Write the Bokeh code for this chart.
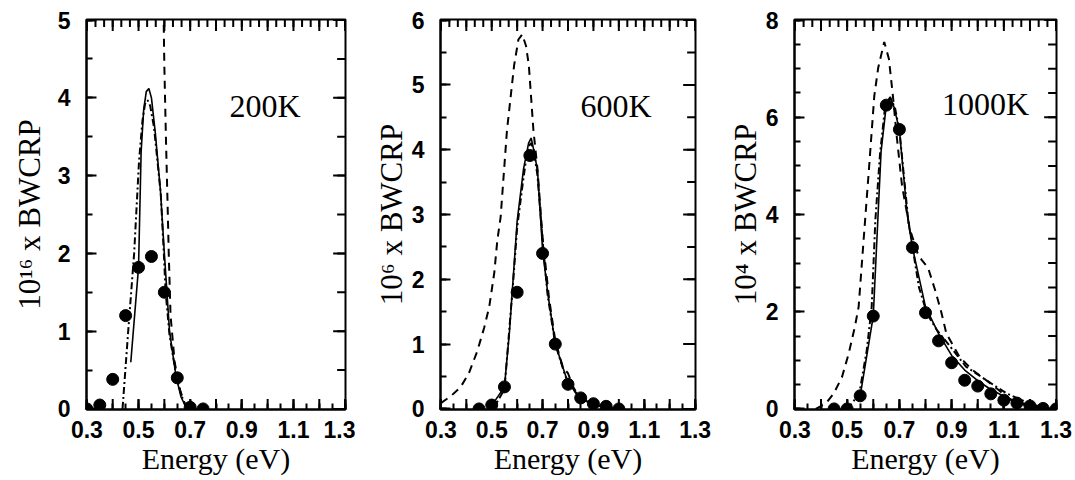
from bokeh.plotting import figure
from bokeh.models import Range1d, FixedTicker, LinearAxis, Label
from bokeh.layouts import row
from bokeh.embed import file_html
from bokeh.resources import INLINE

# ---------------- data ----------------
x_label_ticks = [0.3, 0.5, 0.7, 0.9, 1.1, 1.3]
x_tenth_ticks = [0.3, 0.4, 0.5, 0.6, 0.7, 0.8, 0.9, 1.0, 1.1, 1.2, 1.3]
x_minor_ticks = [round(0.3 + 0.05 * i, 3) for i in range(21)]
x_minor_ticks_top = [round(0.3 + i / 30.0, 4) for i in range(31)]

# 200 K
t200_dots_x = [0.30, 0.35, 0.40, 0.45, 0.50, 0.55, 0.60, 0.65, 0.70, 0.75]
t200_dots_y = [0.0, 0.05, 0.38, 1.20, 1.82, 1.96, 1.50, 0.40, 0.02, 0.0]
t200_dashdot_x = [0.438, 0.46, 0.483, 0.502, 0.515, 0.525, 0.535, 0.545, 0.56, 0.586, 0.598, 0.605, 0.62, 0.645, 0.665, 0.68, 0.695]
t200_dashdot_y = [0.0, 1.0, 2.0, 3.19, 3.70, 3.92, 3.97, 3.90, 3.62, 2.77, 2.0, 1.5, 0.95, 0.45, 0.18, 0.06, 0.0]
t200_solid_x = [0.47, 0.50, 0.51, 0.52, 0.53, 0.54, 0.55, 0.565, 0.585, 0.60, 0.62, 0.645, 0.665, 0.68, 0.70]
t200_solid_y = [0.6, 1.82, 3.30, 3.85, 4.08, 4.12, 4.00, 3.55, 2.80, 2.0, 1.0, 0.42, 0.15, 0.05, 0.0]
t200_dashed_x = [0.596, 0.600, 0.606, 0.612, 0.617, 0.624, 0.64, 0.66, 0.68, 0.70]
t200_dashed_y = [5.3, 4.4, 3.5, 2.7, 2.0, 1.2, 0.6, 0.25, 0.06, 0.0]

# 600 K
t600_dots_x = [0.45, 0.50, 0.55, 0.60, 0.65, 0.70, 0.75, 0.80, 0.85, 0.90, 0.95, 1.00]
t600_dots_y = [0.0, 0.06, 0.34, 1.80, 3.91, 2.40, 1.0, 0.38, 0.17, 0.08, 0.04, 0.0]
t600_dashed_x = [0.30, 0.34, 0.378, 0.41, 0.444, 0.47, 0.49, 0.51, 0.522, 0.535, 0.56, 0.588, 0.605, 0.62, 0.635, 0.646, 0.664, 0.68, 0.70, 0.725, 0.75, 0.78, 0.80, 0.82, 0.85, 0.88, 0.92]
t600_dashed_y = [0.09, 0.20, 0.34, 0.55, 0.90, 1.25, 1.57, 2.10, 2.60, 2.96, 4.30, 5.30, 5.70, 5.78, 5.60, 5.30, 4.30, 3.70, 2.65, 1.72, 1.05, 0.64, 0.55, 0.34, 0.15, 0.06, 0.0]
t600_dashdot_x = [0.49, 0.52, 0.55, 0.568, 0.585, 0.60, 0.62, 0.635, 0.645, 0.655, 0.665, 0.68, 0.70, 0.72, 0.75, 0.79, 0.83, 0.87, 0.92, 0.97, 1.0]
t600_dashdot_y = [0.0, 0.10, 0.30, 1.17, 2.0, 2.8, 3.42, 3.85, 4.05, 4.10, 4.0, 3.6, 2.6, 1.75, 1.0, 0.5, 0.25, 0.12, 0.05, 0.02, 0.0]
t600_solid_x = [0.50, 0.55, 0.57, 0.60, 0.625, 0.645, 0.655, 0.665, 0.68, 0.692, 0.70, 0.72, 0.75, 0.80, 0.85, 0.90, 0.95, 1.0]
t600_solid_y = [0.05, 0.34, 1.20, 2.90, 3.70, 4.10, 4.18, 4.0, 3.68, 2.96, 2.45, 1.80, 1.0, 0.40, 0.17, 0.07, 0.03, 0.0]

# 1000 K
t1000_dots_x = [0.45, 0.50, 0.55, 0.60, 0.65, 0.70, 0.75, 0.80, 0.85, 0.90, 0.95, 1.00, 1.05, 1.10, 1.15, 1.20, 1.25, 1.30]
t1000_dots_y = [0.0, 0.0, 0.27, 1.91, 6.25, 5.75, 3.32, 1.98, 1.40, 0.95, 0.59, 0.47, 0.31, 0.18, 0.12, 0.06, 0.01, 0.0]
t1000_dashed_x = [0.38, 0.42, 0.449, 0.48, 0.506, 0.53, 0.544, 0.563, 0.584, 0.604, 0.619, 0.642, 0.66, 0.676, 0.69, 0.71, 0.74, 0.77, 0.786, 0.81, 0.837, 0.86, 0.88, 0.93, 0.98, 1.03, 1.08, 1.12, 1.18, 1.25]
t1000_dashed_y = [0.0, 0.12, 0.32, 0.65, 1.14, 1.70, 2.10, 3.47, 4.97, 6.44, 7.02, 7.55, 7.20, 6.40, 5.60, 4.60, 3.70, 3.20, 3.06, 2.90, 2.44, 2.0, 1.55, 1.07, 0.80, 0.60, 0.39, 0.20, 0.08, 0.0]
t1000_dashdot_x = [0.50, 0.546, 0.575, 0.594, 0.608, 0.626, 0.645, 0.664, 0.683, 0.70, 0.734, 0.775, 0.806, 0.844, 0.895, 0.955, 1.03, 1.11, 1.21, 1.28]
t1000_dashdot_y = [0.0, 0.30, 1.20, 2.10, 3.88, 5.25, 6.20, 6.41, 6.20, 5.74, 3.88, 2.50, 1.96, 1.62, 1.28, 0.87, 0.60, 0.32, 0.08, 0.02]
t1000_solid_x = [0.55, 0.60, 0.63, 0.65, 0.665, 0.68, 0.70, 0.73, 0.75, 0.80, 0.85, 0.90, 0.95, 1.0, 1.05, 1.1, 1.15, 1.2, 1.25, 1.3]
t1000_solid_y = [0.27, 1.91, 5.30, 6.25, 6.42, 6.20, 5.74, 4.0, 3.32, 2.10, 1.55, 1.10, 0.80, 0.58, 0.40, 0.26, 0.15, 0.08, 0.03, 0.0]

y_ticks_200 = [0, 1, 2, 3, 4, 5]
y_ticks_600 = [0, 1, 2, 3, 4, 5, 6]
y_ticks_1000 = [0, 2, 4, 6, 8]

SERIF = "Liberation Serif"
SANS = "Liberation Sans"
FRAME_H = 390  # px


def make_panel(width, bl, br, ymax, yticks, ylabel, label_standoff, temp, temp_x, temp_y,
               dots_x, dots_y, dashed_x, dashed_y, dashdot_x, dashdot_y, solid_x, solid_y):
    ex = 0.0015
    ey = ymax * 0.0015
    p = figure(width=width, height=480, output_backend="svg", toolbar_location=None,
               x_range=Range1d(0.3 - ex, 1.3 + ex), y_range=Range1d(0 - ey, ymax + ey),
               min_border_left=bl, min_border_right=br, min_border_top=19, min_border_bottom=71,
               x_axis_type=None, y_axis_type=None)
    p.grid.visible = False
    p.outline_line_color = "black"
    p.outline_line_width = 2
    p.background_fill_color = "white"
    p.border_fill_color = "white"

    frame_w = width - bl - br
    px_x = 1.0 / frame_w       # data units per pixel along x
    px_y = ymax / FRAME_H      # data units per pixel along y

    yminor = [i * 0.5 for i in range(int(ymax * 2) + 1)]

    def style(ax):
        ax.axis_line_color = "black"
        ax.axis_line_width = 2
        ax.major_tick_in = 10
        ax.major_tick_out = 0
        ax.minor_tick_in = 6
        ax.minor_tick_out = 0
        ax.major_tick_line_width = 2
        ax.minor_tick_line_width = 2
        ax.major_tick_line_color = "black"
        ax.minor_tick_line_color = "black"
        ax.major_label_text_color = "black"
        ax.axis_label_text_color = "black"

    # bottom axis
    xb = LinearAxis(ticker=FixedTicker(ticks=x_label_ticks, minor_ticks=x_minor_ticks))
    style(xb)
    xb.major_label_text_font = SANS
    xb.major_label_text_font_style = "bold"
    xb.major_label_text_font_size = "23px"
    xb.major_label_standoff = 11
    xb.axis_label = "Energy (eV)"
    xb.axis_label_text_font = SERIF
    xb.axis_label_text_font_style = "normal"
    xb.axis_label_text_font_size = "30px"
    xb.axis_label_standoff = 1
    p.add_layout(xb, "below")

    # left axis
    yl = LinearAxis(ticker=FixedTicker(ticks=yticks, minor_ticks=yminor))
    style(yl)
    yl.major_label_text_font = SANS
    yl.major_label_text_font_style = "bold"
    yl.major_label_text_font_size = "23px"
    yl.major_label_standoff = 16
    yl.axis_label = ylabel
    yl.axis_label_text_font = SERIF
    yl.axis_label_text_font_style = "normal"
    yl.axis_label_text_font_size = "31px"
    yl.axis_label_standoff = label_standoff
    p.add_layout(yl, "left")

    # mirrored inward ticks on the top and right edges, drawn as short segments
    tick_kw = dict(line_color="black", line_width=2)
    n = len(x_minor_ticks_top)
    p.segment(x0=x_minor_ticks_top, y0=[ymax + ey] * n, x1=x_minor_ticks_top,
              y1=[ymax - 7 * px_y] * n, **tick_kw)
    n = len(x_tenth_ticks)
    p.segment(x0=x_tenth_ticks, y0=[ymax + ey] * n, x1=x_tenth_ticks,
              y1=[ymax - 11 * px_y] * n, **tick_kw)
    p.segment(x0=x_tenth_ticks, y0=[0 - ey] * n, x1=x_tenth_ticks,
              y1=[10 * px_y] * n, **tick_kw)
    n = len(yminor)
    p.segment(x0=[1.3 + ex] * n, y0=yminor, x1=[1.3 - 8 * px_x] * n, y1=yminor, **tick_kw)
    n = len(yticks)
    p.segment(x0=[1.3 + ex] * n, y0=yticks, x1=[1.3 - 12 * px_x] * n, y1=yticks, **tick_kw)

    p.line(dashed_x, dashed_y, line_color="black", line_width=2, line_dash="8 6")
    p.line(dashdot_x, dashdot_y, line_color="black", line_width=2, line_dash="7 3 2 3")
    p.line(solid_x, solid_y, line_color="black", line_width=1.6)
    p.scatter(dots_x, dots_y, size=12, color="black")

    p.add_layout(Label(x=temp_x, y=temp_y, text=temp, text_font=SERIF, text_font_size="32px",
                       text_color="black", text_baseline="alphabetic"))
    return p


p1 = make_panel(355, 86, 10, 5, y_ticks_200, "10\u00b9\u2076 x BWCRP", 8, "200K", 0.852, 3.9,
                t200_dots_x, t200_dots_y, t200_dashed_x, t200_dashed_y,
                t200_dashdot_x, t200_dashdot_y, t200_solid_x, t200_solid_y)
p2 = make_panel(360, 85, 20, 6, y_ticks_600, "10\u2076 x BWCRP", 0, "600K", 0.849, 4.68,
                t600_dots_x, t600_dots_y, t600_dashed_x, t600_dashed_y,
                t600_dashdot_x, t600_dashdot_y, t600_solid_x, t600_solid_y)
p3 = make_panel(360, 79, 19, 8, y_ticks_1000, "10\u2074 x BWCRP", 0, "1000K", 0.863, 6.28,
                t1000_dots_x, t1000_dots_y, t1000_dashed_x, t1000_dashed_y,
                t1000_dashdot_x, t1000_dashdot_y, t1000_solid_x, t1000_solid_y)

layout = row(p1, p2, p3)
open("out.html", "w").write(file_html(layout, INLINE))
